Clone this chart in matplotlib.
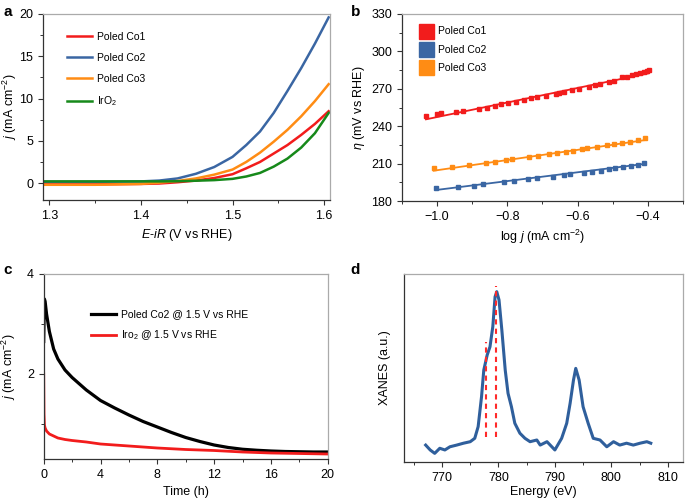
import numpy as np
import matplotlib
matplotlib.use("Agg")
import matplotlib.pyplot as plt
from matplotlib.ticker import MultipleLocator, NullLocator

plt.rcParams['font.family'] = ['Liberation Sans', 'DejaVu Sans']
plt.rcParams['mathtext.fontset'] = 'custom'
plt.rcParams['mathtext.rm'] = 'Liberation Sans'
plt.rcParams['mathtext.it'] = 'Liberation Sans:italic'
plt.rcParams['font.size'] = 8

# ---- panel a: polarization curves ----
pot = [1.293, 1.35, 1.40, 1.42, 1.44, 1.46, 1.48, 1.50, 1.515, 1.53, 1.545, 1.56, 1.575, 1.59, 1.605]
co1_a = [-0.15, -0.15, -0.1, -0.05, 0.1, 0.3, 0.6, 1.05, 1.75, 2.5, 3.5, 4.5, 5.7, 7.0, 8.5]
co2_a = [0.15, 0.15, 0.2, 0.3, 0.55, 1.1, 1.9, 3.1, 4.5, 6.1, 8.3, 10.9, 13.6, 16.5, 19.6]
co3_a = [-0.2, -0.2, -0.1, 0.05, 0.25, 0.55, 1.0, 1.6, 2.5, 3.6, 4.9, 6.3, 7.9, 9.7, 11.7]
iro2_a = [0.2, 0.2, 0.2, 0.2, 0.22, 0.28, 0.35, 0.5, 0.78, 1.2, 1.95, 2.9, 4.2, 5.9, 8.3]

# ---- panel b: Tafel data ----
co1_x = [-1.031, -1.000, -0.989, -0.946, -0.927, -0.880, -0.858, -0.835, -0.818, -0.798, -0.776,
         -0.752, -0.733, -0.714, -0.689, -0.662, -0.653, -0.639, -0.615, -0.596, -0.568, -0.549,
         -0.536, -0.511, -0.497, -0.473, -0.459, -0.444, -0.435, -0.423, -0.411, -0.402, -0.397]
co1_y = [248.2, 249.5, 250.3, 251.1, 252.2, 253.8, 254.3, 256.2, 257.6, 258.4, 259.7,
         261.0, 262.4, 263.7, 264.5, 265.8, 266.4, 267.7, 269.0, 269.8, 271.7, 273.1,
         273.9, 275.2, 276.5, 279.2, 279.8, 281.1, 282.0, 282.5, 283.3, 284.4, 285.3]
co2_x = [-1.003, -0.941, -0.894, -0.870, -0.809, -0.781, -0.742, -0.714, -0.671, -0.639,
         -0.620, -0.582, -0.558, -0.534, -0.511, -0.492, -0.470, -0.449, -0.428, -0.411]
co2_y = [190.7, 191.5, 192.3, 193.4, 195.0, 196.3, 197.4, 198.4, 199.5, 200.6,
         201.4, 202.7, 203.0, 204.1, 205.4, 206.2, 207.0, 208.1, 208.9, 210.2]
co3_x = [-1.009, -0.958, -0.908, -0.861, -0.834, -0.804, -0.787, -0.738, -0.711, -0.681, -0.657,
         -0.632, -0.613, -0.586, -0.572, -0.544, -0.515, -0.497, -0.473, -0.451, -0.428, -0.407]
co3_y = [206.2, 207.5, 208.9, 210.2, 211.5, 212.9, 213.7, 215.1, 216.1, 217.4, 218.2,
         219.6, 220.4, 221.4, 222.2, 223.6, 224.9, 225.7, 226.8, 227.6, 228.9, 230.3]
# fitted lines (end points)
co1_fit_x, co1_fit_y = [-1.031, -0.397], [245.5, 282.5]
co2_fit_x, co2_fit_y = [-1.003, -0.411], [188.8, 209.7]
co3_fit_x, co3_fit_y = [-1.009, -0.407], [204.3, 228.9]

# ---- panel c: stability ----
t_co2 = [0, 0.05, 0.1, 0.2, 0.4, 0.7, 1.0, 1.5, 2, 3, 4, 5, 6, 7, 8, 9, 10, 11, 12, 13, 14, 15, 16, 17, 18, 19, 20]
j_co2 = [2.65, 3.5, 3.45, 3.2, 2.85, 2.5, 2.3, 2.08, 1.93, 1.68, 1.47, 1.32, 1.18, 1.05, 0.94, 0.83, 0.73,
         0.65, 0.58, 0.53, 0.495, 0.475, 0.46, 0.45, 0.445, 0.44, 0.44]
t_iro2 = [0, 0.02, 0.05, 0.1, 0.2, 0.4, 0.7, 1.0, 1.5, 2, 3, 4, 5, 6, 7, 8, 10, 12, 14, 16, 18, 20]
j_iro2 = [2.0, 1.2, 0.98, 0.92, 0.86, 0.8, 0.76, 0.72, 0.69, 0.67, 0.64, 0.6, 0.58, 0.56, 0.54, 0.52,
          0.49, 0.47, 0.44, 0.42, 0.41, 0.40]

# ---- panel d: XANES ----
energy = [767.1, 767.9, 768.7, 769.6, 770.5, 771.4, 772.6, 773.8, 775.0, 775.8, 776.4, 777.0, 777.4,
          778.0, 778.5, 779.0, 779.4, 779.7, 780.1, 780.6, 781.2, 781.7, 782.3, 782.9, 783.8, 784.7,
          785.6, 786.8, 787.4, 788.6, 790.0, 791.2, 792.1, 792.7, 793.3, 793.7, 794.3, 795.0, 795.9,
          796.8, 798.0, 799.2, 800.4, 801.5, 802.7, 803.9, 805.1, 806.3, 807.0]
xanes = [0.09, 0.064, 0.046, 0.073, 0.064, 0.081, 0.09, 0.10, 0.108, 0.126, 0.188, 0.347, 0.489,
         0.569, 0.613, 0.72, 0.879, 0.906, 0.862, 0.702, 0.489, 0.365, 0.294, 0.206, 0.153, 0.126,
         0.108, 0.117, 0.09, 0.108, 0.064, 0.126, 0.206, 0.312, 0.436, 0.498, 0.436, 0.294, 0.206,
         0.126, 0.117, 0.081, 0.108, 0.09, 0.10, 0.09, 0.10, 0.108, 0.10]
dash_e = [777.8, 779.6]
dash_top = [0.64, 0.936]
dash_bot = 0.135

RED = '#f21c1c'
BLUE = '#3a66a3'
ORANGE = '#ff8c14'
GREEN = '#16891a'
FS = 9


def style_ax(ax):
    for s in ['top', 'right']:
        ax.spines[s].set_color('#aaaaaa')
    for s in ['left', 'bottom']:
        ax.spines[s].set_color('#333333')
    for s in ax.spines.values():
        s.set_linewidth(0.9)
    ax.tick_params(which='major', direction='out', length=3.5, width=0.8, labelsize=FS, color='#333333')
    ax.tick_params(which='minor', direction='out', length=2, width=0.7, color='#333333')


fig = plt.figure(figsize=(6.85, 5.0), dpi=100)

# a
ax = fig.add_axes([0.0628, 0.6, 0.419, 0.372])
ax.plot(pot, co1_a, color=RED, lw=1.8, label='Poled Co1')
ax.plot(pot, co2_a, color=BLUE, lw=1.8, label='Poled Co2')
ax.plot(pot, co3_a, color=ORANGE, lw=1.8, label='Poled Co3')
ax.plot(pot, iro2_a, color=GREEN, lw=1.8, label='IrO$_2$')
ax.set_xlim(1.293, 1.6065)
ax.set_ylim(-2, 20)
ax.xaxis.set_major_locator(MultipleLocator(0.1))
ax.xaxis.set_minor_locator(MultipleLocator(0.05))
ax.yaxis.set_major_locator(MultipleLocator(5))
ax.yaxis.set_minor_locator(MultipleLocator(2.5))
style_ax(ax)
ax.set_xlabel('$E$-$iR$ (V vs RHE)', fontsize=FS)
ax.set_ylabel('$j$ (mA cm$^{-2}$)', fontsize=FS)
ax.yaxis.set_label_coords(-0.085, 0.5)
ax.legend(loc='upper left', bbox_to_anchor=(0.05, 0.955), frameon=False, fontsize=7.5,
          handlelength=2.4, labelspacing=1.05, handletextpad=0.5)
fig.text(0.005, 0.975, 'a', fontsize=11, fontweight='bold', va='center')

# b
ax = fig.add_axes([0.5864, 0.598, 0.4107, 0.374])
ax.plot(co1_x, co1_y, 's', color=RED, ms=3, label='Poled Co1')
ax.plot(co2_x, co2_y, 's', color=BLUE, ms=3, label='Poled Co2')
ax.plot(co3_x, co3_y, 's', color=ORANGE, ms=3, label='Poled Co3')
ax.plot(co1_fit_x, co1_fit_y, color=RED, lw=1.3)
ax.plot(co2_fit_x, co2_fit_y, color=BLUE, lw=1.3)
ax.plot(co3_fit_x, co3_fit_y, color=ORANGE, lw=1.3)
ax.set_xlim(-1.1, -0.3)
ax.set_ylim(180, 330)
ax.xaxis.set_major_locator(MultipleLocator(0.2))
ax.xaxis.set_minor_locator(MultipleLocator(0.1))
ax.yaxis.set_major_locator(MultipleLocator(30))
ax.yaxis.set_minor_locator(MultipleLocator(15))
ax.xaxis.set_major_formatter(matplotlib.ticker.FuncFormatter(lambda v, p: '\u2212%.1f' % abs(v)))
style_ax(ax)
ax.set_xlabel('log $j$ (mA cm$^{-2}$)', fontsize=FS)
ax.set_ylabel('$\\eta$ (mV vs RHE)', fontsize=FS)
ax.yaxis.set_label_coords(-0.125, 0.5)
ax.legend(loc='upper left', bbox_to_anchor=(0.03, 0.985), frameon=False, fontsize=7.5,
          markerscale=3.6, handlelength=1.2, labelspacing=0.8, handletextpad=0.6)
fig.text(0.512, 0.975, 'b', fontsize=11, fontweight='bold', va='center')

# c
ax = fig.add_axes([0.0638, 0.082, 0.4146, 0.37])
ax.plot(t_co2, j_co2, color='black', lw=2.3, label='Poled Co2 @ 1.5 V vs RHE')
ax.plot(t_iro2, j_iro2, color=RED, lw=2.0, label='Iro$_2$ @ 1.5 V vs RHE')
ax.set_xlim(0, 20)
ax.set_ylim(0.3, 4)
ax.xaxis.set_major_locator(MultipleLocator(4))
ax.xaxis.set_minor_locator(MultipleLocator(2))
ax.yaxis.set_major_locator(MultipleLocator(2))
ax.yaxis.set_minor_locator(MultipleLocator(1))
style_ax(ax)
ax.set_xlabel('Time (h)', fontsize=FS)
ax.set_ylabel('$j$ (mA cm$^{-2}$)', fontsize=FS)
ax.yaxis.set_label_coords(-0.09, 0.5)
ax.legend(loc='upper left', bbox_to_anchor=(0.135, 0.86), frameon=False, fontsize=7.5,
          handlelength=2.4, labelspacing=0.9, handletextpad=0.4)
fig.text(0.005, 0.46, 'c', fontsize=11, fontweight='bold', va='center')

# d
ax = fig.add_axes([0.5893, 0.076, 0.4077, 0.376])
ax.plot(energy, xanes, color='#2f5f9c', lw=2.2)
for e, top in zip(dash_e, dash_top):
    ax.plot([e, e], [dash_bot, top], color='#ff2a2a', lw=1.5, ls=(0, (2.5, 2)))
ax.set_xlim(763.2, 812.7)
ax.set_ylim(0, 1)
ax.xaxis.set_major_locator(MultipleLocator(10))
ax.xaxis.set_minor_locator(MultipleLocator(5))
ax.yaxis.set_major_locator(NullLocator())
style_ax(ax)
ax.set_xlabel('Energy (eV)', fontsize=FS, labelpad=2)
ax.set_ylabel('XANES (a.u.)', fontsize=FS)
ax.yaxis.set_label_coords(-0.045, 0.5)
fig.text(0.512, 0.46, 'd', fontsize=11, fontweight='bold', va='center')

fig.savefig('out.png', dpi=100)
